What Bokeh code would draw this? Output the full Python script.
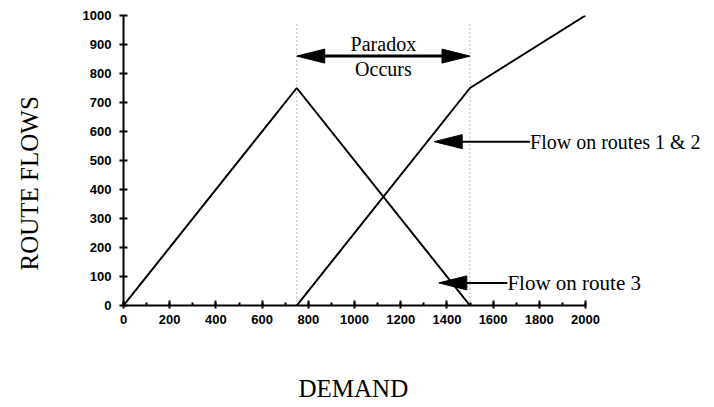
from bokeh.plotting import figure
from bokeh.models import Range1d, SingleIntervalTicker, Label, Title
from bokeh.embed import file_html
from bokeh.resources import INLINE

# ---- data ----
demand_route3 = [0, 750, 1500]
flow_route3 = [0, 750, 0]
demand_route12 = [750, 1500, 2000]
flow_route12 = [0, 750, 1000]
paradox_bounds = [750, 1500]
paradox_top = 970
paradox_arrow_y = 860
paradox_text = ["Paradox", "Occurs"]
paradox_text_y = [903, 814]
label_routes12 = "Flow on routes 1 & 2"
label_route3 = "Flow on route 3"
arrow12_tip = (1345, 565)
arrow12_tail_x = 1760
arrow3_tip = (1365, 78)
arrow3_tail_x = 1662
x_axis_max = 2000
y_axis_max = 1000

SERIF = "Liberation Serif"
SANS = "Liberation Sans"

PX_X = 462 / x_axis_max  # pixels per demand unit
FRAME_W = 583
x_view_max = FRAME_W / PX_X

p = figure(frame_width=FRAME_W, frame_height=290, output_backend="svg", toolbar_location=None,
           x_range=Range1d(0, x_view_max), y_range=Range1d(0, y_axis_max),
           min_border_left=123, min_border_right=0, min_border_top=15, min_border_bottom=80)
p.outline_line_color = None
p.xgrid.visible = False
p.ygrid.visible = False
p.background_fill_color = "white"
p.border_fill_color = "white"

p.xaxis.ticker = SingleIntervalTicker(interval=200, num_minor_ticks=2)
p.yaxis.ticker = SingleIntervalTicker(interval=100, num_minor_ticks=0)
p.xaxis.bounds = (0, x_axis_max)
p.yaxis.bounds = (0, y_axis_max)
for ax in (p.xaxis, p.yaxis):
    ax.axis_line_width = 2
    ax.axis_line_color = "black"
    ax.major_tick_line_width = 2
    ax.major_tick_line_color = "black"
    ax.minor_tick_line_width = 2
    ax.minor_tick_line_color = "black"
    ax.major_label_text_font = SANS
    ax.major_label_text_font_style = "bold"
    ax.major_label_text_font_size = "13px"
    ax.major_label_text_color = "black"
    # blank label used only as spacing before the axis titles
    ax.axis_label = " "
    ax.axis_label_text_font_size = "1px"

p.xaxis.major_tick_in = 5
p.xaxis.major_tick_out = 3
p.xaxis.minor_tick_in = 3
p.xaxis.minor_tick_out = 0
p.xaxis.major_label_standoff = 6
p.xaxis.axis_label_standoff = 44

p.yaxis.major_tick_in = 4
p.yaxis.major_tick_out = 4
p.yaxis.major_label_standoff = 8
p.yaxis.axis_label_standoff = 31

# axis titles placed with offsets (centered on the 0..2000 axis, not the wider frame)
xtitle = Title(text="DEMAND", align="left", offset=175, vertical_align="top", standoff=0,
               text_font=SERIF, text_font_style="normal", text_font_size="25px", text_color="black")
p.add_layout(xtitle, "below")
ytitle = Title(text="ROUTE FLOWS", align="left", offset=35, vertical_align="top", standoff=0,
               text_font=SERIF, text_font_style="normal", text_font_size="25px", text_color="black")
p.add_layout(ytitle, "left")

# dotted bounds
p.segment(x0=paradox_bounds, y0=[0, 0], x1=paradox_bounds, y1=[paradox_top, paradox_top],
          line_color="#777777", line_width=1, line_dash="1 3")

# flow lines
p.line(demand_route3, flow_route3, line_color="black", line_width=2)
p.line(demand_route12, flow_route12, line_color="black", line_width=2)

# arrow head geometry (px -> data units)
dxp = 1 / PX_X
dyp = y_axis_max / 290
L = 28 * dxp
W = 7 * dyp

def head(tx, ty, direction):
    bx = tx + direction * L
    return [tx, bx, bx], [ty, ty + W, ty - W]

# double arrow
lo, hi = paradox_bounds
p.segment(x0=[lo + L * 0.8], y0=[paradox_arrow_y], x1=[hi - L * 0.8], y1=[paradox_arrow_y],
          line_color="black", line_width=3)
hx1, hy1 = head(lo, paradox_arrow_y, 1)
hx2, hy2 = head(hi, paradox_arrow_y, -1)
hx3, hy3 = head(arrow12_tip[0], arrow12_tip[1], 1)
hx4, hy4 = head(arrow3_tip[0], arrow3_tip[1], 1)
p.patches([hx1, hx2, hx3, hx4], [hy1, hy2, hy3, hy4], fill_color="black", line_color="black")

p.segment(x0=[arrow12_tip[0] + L * 0.8, arrow3_tip[0] + L * 0.8],
          y0=[arrow12_tip[1], arrow3_tip[1]],
          x1=[arrow12_tail_x, arrow3_tail_x],
          y1=[arrow12_tip[1], arrow3_tip[1]],
          line_color="black", line_width=2)

for t, yv in zip(paradox_text, paradox_text_y):
    p.add_layout(Label(x=(lo + hi) / 2, y=yv, text=t, text_align="center", text_baseline="middle",
                       text_font=SERIF, text_font_size="20px", text_color="black"))

p.add_layout(Label(x=arrow12_tail_x, y=arrow12_tip[1], text=label_routes12, text_align="left",
                   text_baseline="middle", text_font=SERIF, text_font_size="20px", text_color="black"))
p.add_layout(Label(x=arrow3_tail_x, y=arrow3_tip[1], text=label_route3, text_align="left",
                   text_baseline="middle", text_font=SERIF, text_font_size="21px", text_color="black"))

open("out.html", "w").write(file_html(p, INLINE))
